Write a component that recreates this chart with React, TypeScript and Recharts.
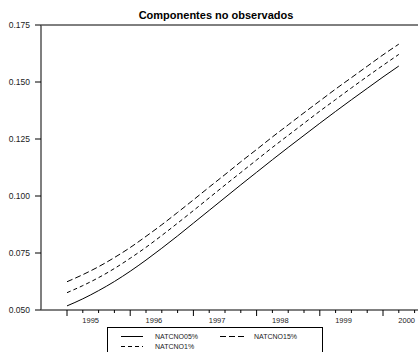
import React from 'react';
import { LineChart, Line, XAxis, YAxis, ReferenceLine } from 'recharts';

// quarterly observations, 1994Q3 .. 1999Q4
const quarters = [0, 1, 2, 3, 4, 5, 6, 7, 8, 9, 10, 11, 12, 13, 14, 15, 16, 17, 18, 19, 20, 21];

const natcno05 = [
  0.0518, 0.0549, 0.0585, 0.0625, 0.067, 0.0719, 0.0771, 0.0825, 0.0881, 0.0937, 0.0993,
  0.1049, 0.1104, 0.1159, 0.1213, 0.1266, 0.1319, 0.1371, 0.1422, 0.1472, 0.1522, 0.157,
];
const natcno1 = [
  0.0576, 0.0607, 0.0642, 0.0682, 0.0727, 0.0775, 0.0827, 0.0881, 0.0936, 0.0992, 0.1048,
  0.1103, 0.1158, 0.1213, 0.1266, 0.1319, 0.1372, 0.1423, 0.1474, 0.1524, 0.1573, 0.1621,
];
const natcno15 = [
  0.0624, 0.0655, 0.069, 0.073, 0.0774, 0.0823, 0.0874, 0.0928, 0.0983, 0.1039, 0.1094,
  0.115, 0.1204, 0.1259, 0.1312, 0.1365, 0.1417, 0.1469, 0.1519, 0.1569, 0.1619, 0.1666,
];

const yTicks = [0.05, 0.075, 0.1, 0.125, 0.15, 0.175];
const quarterTicks = [0, 1, 2, 3, 4, 5, 6, 7, 8, 9, 10, 11, 12, 13, 14, 15, 16, 17, 18, 19, 20, 21, 22];
const yearPositions = [1.5, 5.5, 9.5, 13.5, 17.5, 21.5];
const yearLabels = ['1995', '1996', '1997', '1998', '1999', '2000'];

const data = quarters.map((q, i) => ({
  t: q,
  a: natcno05[i],
  b: natcno1[i],
  c: natcno15[i],
}));

const FONT = '"Liberation Sans", Arial, sans-serif';

const XTick = (props: any) => {
  const { x, y, payload } = props;
  const v = payload.value;
  const idx = yearPositions.indexOf(v);
  if (idx >= 0) {
    return (
      <text x={x} y={y + 13} textAnchor="middle" fontSize={7.5} fill="#222" fontFamily={FONT}>
        {yearLabels[idx]}
      </text>
    );
  }
  const len = v % 4 === 0 ? 6 : 3;
  return <line x1={x} x2={x} y1={y} y2={y + len} stroke="#000" strokeWidth={1} />;
};

export default function App() {
  return (
    <div style={{ position: 'absolute', left: 0, top: 0, width: 418, height: 352, overflow: 'hidden', background: '#fff' }}>
      <LineChart width={418} height={352} data={data} margin={{ top: 25, right: 0, bottom: 0, left: 0 }}>
        <XAxis
          type="number"
          dataKey="t"
          domain={[-1.646, 22.215]}
          allowDataOverflow
          ticks={[...quarterTicks, ...yearPositions]}
          interval={0}
          height={42}
          tickSize={0}
          tickMargin={0}
          tickLine={false}
          axisLine={{ stroke: '#000', strokeWidth: 1 }}
          tick={<XTick />}
        />
        <YAxis
          type="number"
          domain={[0.05, 0.175]}
          ticks={yTicks}
          interval={0}
          width={41}
          tickSize={6}
          tickMargin={5}
          axisLine={{ stroke: '#555', strokeWidth: 1.5 }}
          tickLine={{ stroke: '#000' }}
          tick={{ fontSize: 8.5, fill: '#222', fontFamily: FONT }}
          tickFormatter={(v: number) => v.toFixed(3)}
        />
        <ReferenceLine y={0.175} stroke="#000" strokeWidth={1} />
        <Line type="monotone" dataKey="c" stroke="#000" strokeWidth={1} strokeDasharray="6 3" dot={false} isAnimationActive={false} />
        <Line type="monotone" dataKey="b" stroke="#000" strokeWidth={1} strokeDasharray="4 3" dot={false} isAnimationActive={false} />
        <Line type="monotone" dataKey="a" stroke="#000" strokeWidth={1} dot={false} isAnimationActive={false} />
      </LineChart>
      <svg width={418} height={352} style={{ position: 'absolute', left: 0, top: 0, pointerEvents: 'none' }}>
        <text x={216} y={19} textAnchor="middle" fontSize={11} fontWeight="bold" fill="#000" fontFamily={FONT}>
          Componentes no observados
        </text>
        <rect x={107.5} y={327.5} width={215} height={30} fill="none" stroke="#000" strokeWidth={1} />
        <line x1={121} x2={143} y1={336.5} y2={336.5} stroke="#000" strokeWidth={1} />
        <text x={155} y={339} fontSize={7} fill="#222" fontFamily={FONT}>NATCNO05%</text>
        <line x1={220} x2={245} y1={336.5} y2={336.5} stroke="#000" strokeWidth={1} strokeDasharray="6 3" />
        <text x={254} y={339} fontSize={7} fill="#222" fontFamily={FONT}>NATCNO15%</text>
        <line x1={121} x2={143} y1={346.5} y2={346.5} stroke="#000" strokeWidth={1} strokeDasharray="4 3" />
        <text x={155} y={349} fontSize={7} fill="#222" fontFamily={FONT}>NATCNO1%</text>
      </svg>
    </div>
  );
}
